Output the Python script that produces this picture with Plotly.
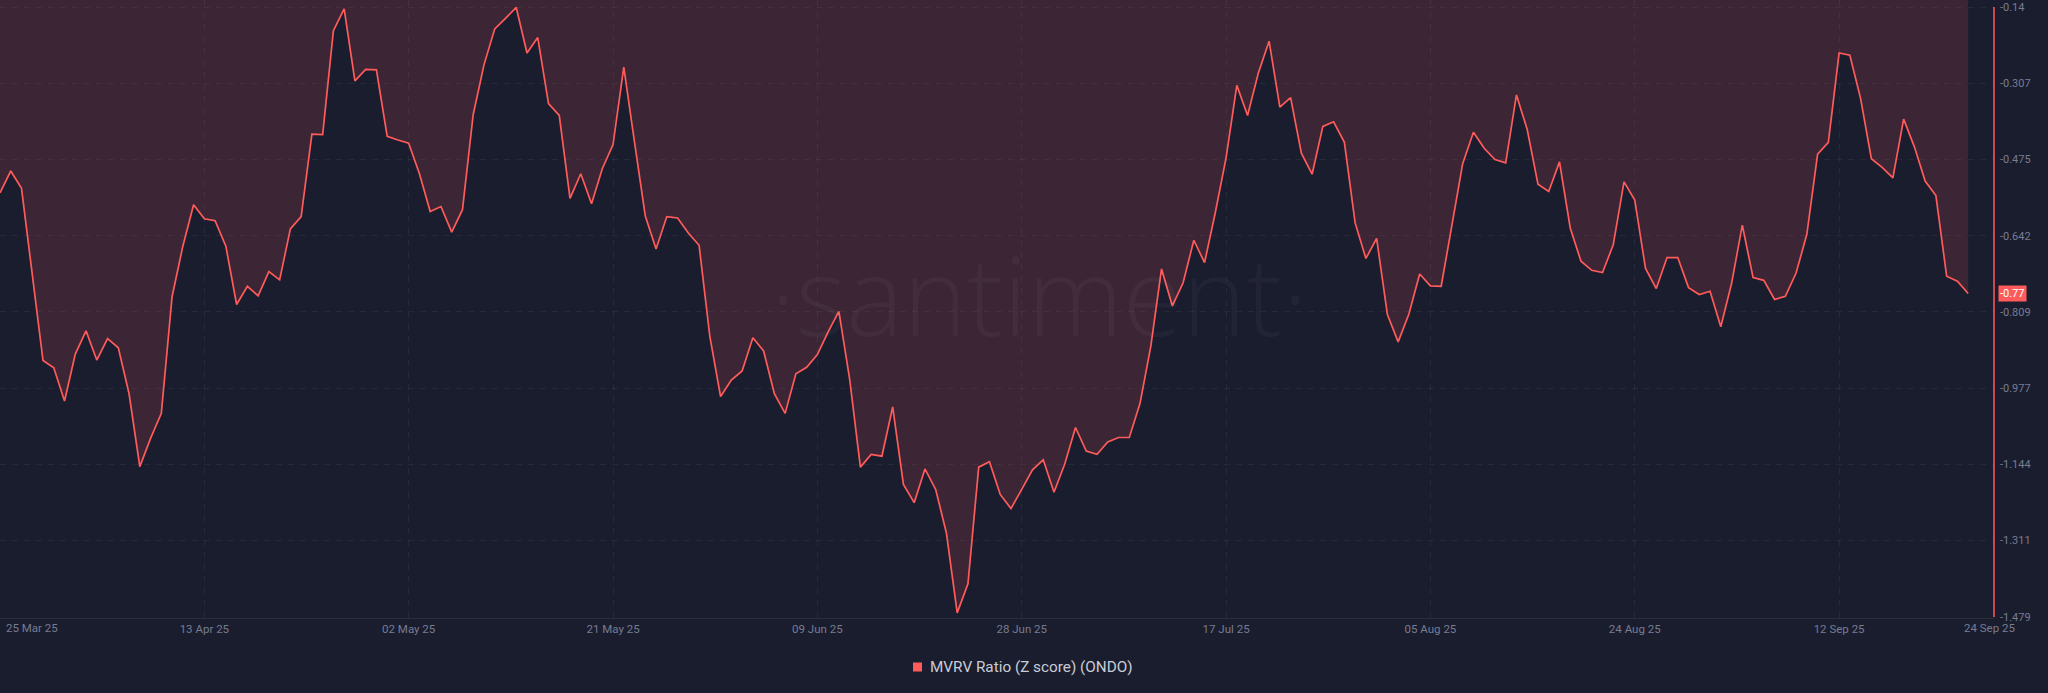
import pandas as pd
import plotly.graph_objects as go

# ---------------- data ----------------
START_DATE = "2025-03-25"
MVRV_Z = [
    -0.548, -0.500, -0.538, -0.727, -0.916, -0.932, -1.005, -0.902, -0.851, -0.915,
    -0.868, -0.888, -0.989, -1.149, -1.087, -1.032, -0.776, -0.665, -0.574, -0.605,
    -0.609, -0.665, -0.793, -0.753, -0.774, -0.721, -0.739, -0.627, -0.600, -0.419,
    -0.420, -0.192, -0.144, -0.302, -0.277, -0.278, -0.424, -0.432, -0.439, -0.506,
    -0.589, -0.578, -0.634, -0.585, -0.376, -0.267, -0.188, -0.165, -0.141, -0.241,
    -0.207, -0.352, -0.378, -0.560, -0.506, -0.572, -0.495, -0.442, -0.272, -0.437,
    -0.599, -0.671, -0.600, -0.603, -0.636, -0.663, -0.863, -0.995, -0.959, -0.939,
    -0.866, -0.895, -0.989, -1.032, -0.945, -0.931, -0.903, -0.853,
    -0.808, -0.957, -1.150, -1.122, -1.126, -1.018, -1.188, -1.228, -1.154, -1.199,
    -1.295, -1.470, -1.406, -1.150, -1.138, -1.210, -1.241, -1.199, -1.156, -1.134,
    -1.205, -1.143, -1.063, -1.115, -1.122, -1.095, -1.085, -1.085, -1.010, -0.885,
    -0.715, -0.796, -0.746, -0.652, -0.701, -0.591, -0.471, -0.312,
    -0.378, -0.285, -0.215, -0.360, -0.339, -0.461, -0.507, -0.402, -0.392, -0.437,
    -0.614, -0.692, -0.648, -0.815, -0.875, -0.814, -0.726, -0.752, -0.753, -0.619,
    -0.484, -0.415, -0.450, -0.475, -0.482, -0.333, -0.409, -0.529, -0.545, -0.480,
    -0.625, -0.698, -0.718, -0.723, -0.662, -0.524, -0.564, -0.714,
    -0.758, -0.690, -0.690, -0.756, -0.771, -0.764, -0.842, -0.747, -0.619, -0.734,
    -0.740, -0.782, -0.775, -0.724, -0.639, -0.463, -0.437, -0.241, -0.246, -0.341,
    -0.473, -0.492, -0.515, -0.386, -0.447, -0.522, -0.554, -0.731, -0.742, -0.769,
]
X_TICK_DATES = ["2025-04-13", "2025-05-02", "2025-05-21", "2025-06-09", "2025-06-28",
                "2025-07-17", "2025-08-05", "2025-08-24", "2025-09-12"]
X_EDGE_LABELS = ["25 Mar 25", "24 Sep 25"]
Y_TICK_LABELS = ["-0.14", "-0.307", "-0.475", "-0.642", "-0.809",
                 "-0.977", "-1.144", "-1.311", "-1.479"]
SERIES_NAME = "MVRV Ratio (Z score) (ONDO)"

# ---------------- styling ----------------
BG = "#1a1d2e"
LINE = "#ff5b5b"
FILL = "rgba(255,91,91,0.148)"
GRID = "rgba(255,255,255,0.055)"
TICK = "#777c91"
FONT = "Roboto"

W, H = 2048, 693
ML, MR, MT, MB = 0, 54, 0, 75
PW, PH = W - ML - MR, H - MT - MB

dates = pd.date_range(START_DATE, periods=len(MVRV_Z), freq="D")
px_per_day = 10.755
x_end = dates[0] + pd.Timedelta(days=PW / px_per_day)

yvals = [float(t) for t in Y_TICK_LABELS]
y_lo = yvals[-1] - 1.0 / 455.6
y_hi = yvals[0] + 7.0 / 455.6

fig = go.Figure()
fig.add_trace(go.Scatter(
    x=dates, y=MVRV_Z, mode="lines",
    line=dict(color=LINE, width=1.7),
    fill="tozeroy", fillcolor=FILL,
    showlegend=False, hoverinfo="skip",
))

tickvals = pd.to_datetime(X_TICK_DATES)
ticktext = [d.strftime("%d %b %y") for d in tickvals]

fig.update_layout(
    width=W, height=H,
    margin=dict(l=ML, r=MR, t=MT, b=MB, autoexpand=False),
    paper_bgcolor=BG, plot_bgcolor=BG,
    font=dict(family=FONT, color=TICK, size=11),
    showlegend=False,
    xaxis=dict(
        type="date", range=[dates[0], x_end], automargin=False,
        tickvals=tickvals, ticktext=ticktext,
        showgrid=True, gridcolor=GRID, griddash="6px,6px", gridwidth=1,
        showline=True, linecolor="rgba(255,255,255,0.07)", linewidth=1,
        ticks="", zeroline=False,
        tickfont=dict(family=FONT, size=11.5, color=TICK),
    ),
    yaxis=dict(
        side="right", range=[y_lo, y_hi], automargin=False,
        tickvals=yvals, ticktext=Y_TICK_LABELS,
        showgrid=True, gridcolor=GRID, griddash="6px,6px", gridwidth=1,
        showline=False, ticks="", zeroline=False,
        ticklabelstandoff=5,
        tickfont=dict(family=FONT, size=11, color=TICK),
    ),
)

# right red axis line spanning the tick range
fig.add_shape(type="line", xref="paper", yref="y", x0=1, x1=1,
              y0=yvals[-1], y1=yvals[0], line=dict(color=LINE, width=1.5))

# edge date labels
fig.add_annotation(x=dates[0], y=0, xref="x", yref="paper", text=X_EDGE_LABELS[0],
                   showarrow=False, xanchor="left", yanchor="middle",
                   xshift=4, yshift=-10, font=dict(family=FONT, size=11.5, color=TICK))
fig.add_annotation(x=dates[-1], y=0, xref="x", yref="paper", text=X_EDGE_LABELS[1],
                   showarrow=False, xanchor="center", yanchor="middle",
                   xshift=21, yshift=-10, font=dict(family=FONT, size=11.5, color=TICK))

# last value badge
fig.add_annotation(x=1, y=MVRV_Z[-1], xref="paper", yref="y",
                   text=f"{MVRV_Z[-1]:.2f}", showarrow=False,
                   xanchor="left", yanchor="middle", xshift=4,
                   bgcolor=LINE, borderpad=1,
                   font=dict(family=FONT, size=11, color="#ffffff"))

# watermark
fig.add_annotation(x=1039 / PW, y=1 - 295 / PH, xref="paper", yref="paper",
                   text="·santiment·", showarrow=False,
                   xanchor="center", yanchor="middle",
                   font=dict(family="Open Sans", size=108, color="rgba(255,255,255,0.035)", weight=300))

# legend (square + text)
lx, ly = 913, 667
fig.add_shape(type="rect", xref="paper", yref="paper",
              x0=lx / PW, x1=(lx + 9) / PW, y0=1 - (ly + 4.5) / PH, y1=1 - (ly - 4.5) / PH,
              fillcolor=LINE, line=dict(width=0))
fig.add_annotation(x=(lx + 15) / PW, y=1 - ly / PH, xref="paper", yref="paper",
                   text=SERIES_NAME, showarrow=False, xanchor="left", yanchor="middle",
                   font=dict(family=FONT, size=15.3, color="#c9ccd6"))

fig.write_html(
    "out.html",
    config={"displayModeBar": False},
    post_script="document.body.style.margin='0';document.body.style.background='" + BG + "';",
)
